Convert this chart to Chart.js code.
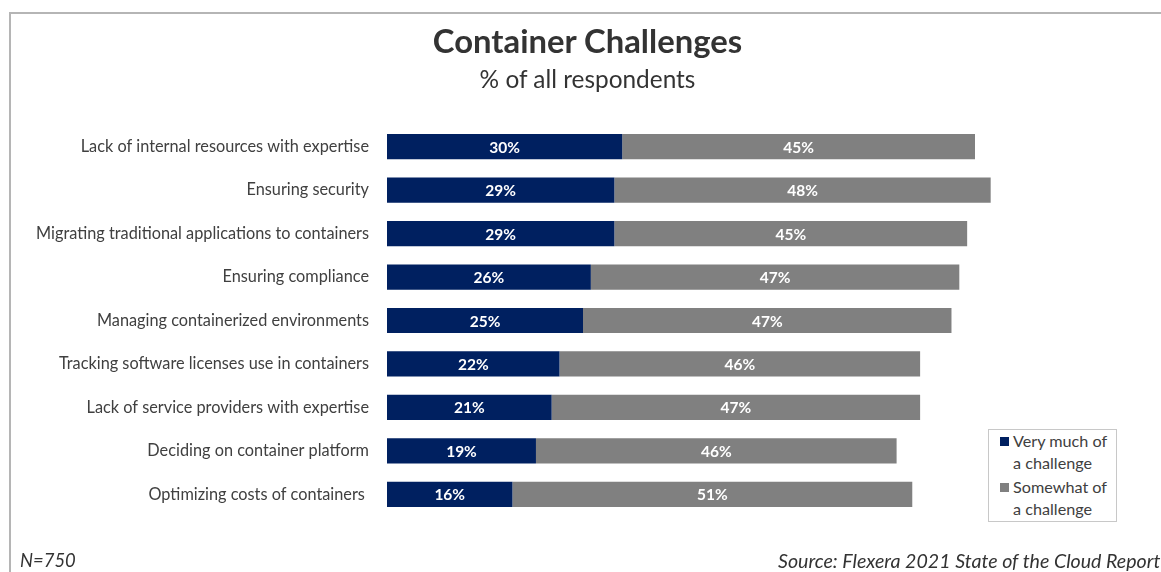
<!DOCTYPE html>
<html>
<head>
<meta charset="utf-8">
<script src="https://cdn.jsdelivr.net/npm/chart.js@4/dist/chart.umd.min.js"></script>
<style>
  html, body { margin: 0; padding: 0; background: #fff; }
  #wrap { position: relative; width: 1161px; height: 572px; overflow: hidden; font-family: "Lato", "Open Sans", sans-serif; }
  #frame { position: absolute; left: 9px; top: 12px; width: 1200px; height: 600px; border-top: 2px solid #b5b5b5; border-left: 2px solid #b5b5b5; box-sizing: border-box; }
  #title { position: absolute; left: 0; width: 1175px; top: 21px; text-align: center; font-weight: bold; font-size: 32.8px; color: #333; line-height: 40px; }
  #subtitle { position: absolute; left: 0; width: 1175px; top: 64px; text-align: center; font-size: 24.4px; color: #333; line-height: 30px; }
  #legend { position: absolute; left: 988px; top: 429px; width: 129px; height: 93px; border: 1px solid #c8c8c8; box-sizing: border-box; background: #fff; font-size: 16.2px; color: #404040; line-height: 22px; padding-top: 0px; }
  .li { position: relative; padding-left: 24px; }
  .li + .li { margin-top: 2px; }
  .sw { position: absolute; left: 11px; top: 7px; width: 9px; height: 9px; }
  #n { position: absolute; left: 20px; top: 549px; font-style: italic; font-size: 18.4px; color: #333; }
  #src { position: absolute; left: 778px; top: 549px; font-style: italic; font-size: 19.6px; color: #333; white-space: nowrap; }
  canvas { position: absolute; left: 0; top: 0; }
</style>
</head>
<body>
<div id="wrap">
  <div id="frame"></div>
  <canvas id="c" width="1161" height="572"></canvas>
  <div id="title">Container Challenges</div>
  <div id="subtitle">% of all respondents</div>
  <div id="legend"></div>
  <div id="n">N=750</div>
  <div id="src">Source: Flexera 2021 State of the Cloud Report</div>
</div>
<script>
const categories = [
  "Lack of internal resources with expertise",
  "Ensuring security",
  "Migrating traditional applications to containers",
  "Ensuring compliance",
  "Managing containerized environments",
  "Tracking software licenses use in containers",
  "Lack of service providers with expertise",
  "Deciding on container platform",
  "Optimizing costs of containers "
];
const veryMuch = [30, 29, 29, 26, 25, 22, 21, 19, 16];
const somewhat = [45, 48, 45, 47, 47, 46, 47, 46, 51];
const seriesNames = ["Very much of a challenge", "Somewhat of a challenge"];
const seriesColors = ["#002060", "#808080"];

const legendEl = document.getElementById('legend');
legendEl.innerHTML = [
  '<div class="li"><span class="sw" style="background:' + seriesColors[0] + '"></span>Very much of<br>a challenge</div>',
  '<div class="li"><span class="sw" style="background:' + seriesColors[1] + '"></span>Somewhat of<br>a challenge</div>'
].join('');

const barLabels = {
  id: 'barLabels',
  afterDatasetsDraw(chart) {
    const ctx = chart.ctx;
    ctx.save();
    ctx.fillStyle = '#ffffff';
    ctx.font = 'bold 15.5px Lato, "Open Sans", sans-serif';
    ctx.textAlign = 'center';
    ctx.textBaseline = 'middle';
    chart.data.datasets.forEach((ds, di) => {
      const meta = chart.getDatasetMeta(di);
      meta.data.forEach((bar, i) => {
        const cx = (bar.x + bar.base) / 2;
        ctx.fillText(ds.data[i] + '%', cx, bar.y + 1);
      });
    });
    ctx.restore();
  }
};

const LEFT = 387, XMAX = 90, PXPER = 7.84;
new Chart(document.getElementById('c'), {
  type: 'bar',
  data: {
    labels: categories,
    datasets: [
      { label: seriesNames[0], data: veryMuch, backgroundColor: seriesColors[0], barPercentage: 0.58, categoryPercentage: 1 },
      { label: seriesNames[1], data: somewhat, backgroundColor: seriesColors[1], barPercentage: 0.58, categoryPercentage: 1 }
    ]
  },
  options: {
    indexAxis: 'y',
    responsive: false,
    animation: false,
    layout: { padding: { left: 0, right: 1161 - LEFT - XMAX * PXPER, top: 125, bottom: 56 } },
    plugins: { legend: { display: false }, tooltip: { enabled: false }, title: { display: false } },
    scales: {
      x: { stacked: true, min: 0, max: XMAX, display: false },
      y: {
        stacked: true,
        grid: { display: false, drawTicks: false },
        border: { display: false },
        ticks: { color: '#404040', font: { family: 'Lato, "Open Sans", sans-serif', size: 16.3 }, padding: 18 },
        afterFit(scale) { scale.width = LEFT; }
      }
    }
  },
  plugins: [barLabels]
});
</script>
</body>
</html>
